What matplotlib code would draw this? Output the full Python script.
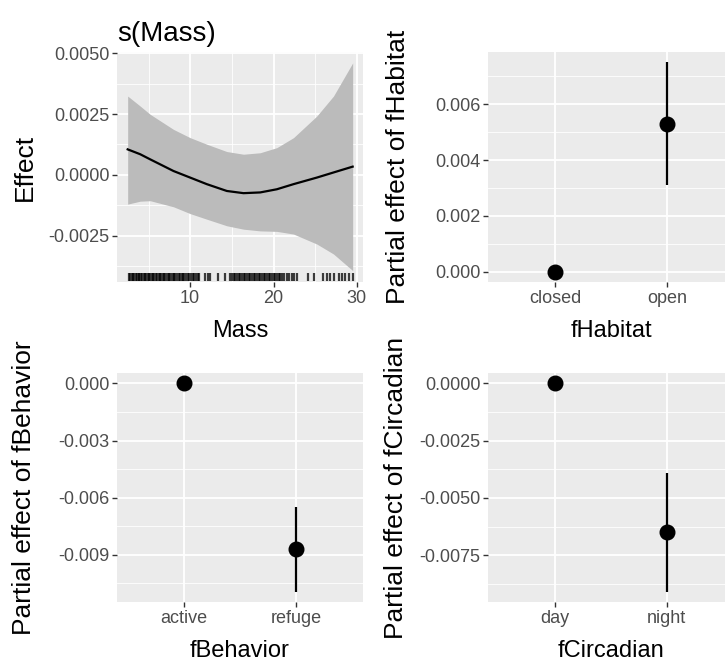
import numpy as np
import matplotlib.pyplot as plt
from matplotlib.ticker import FuncFormatter, MultipleLocator

plt.rcParams['font.family'] = ['Liberation Sans', 'DejaVu Sans']
plt.rcParams['axes.unicode_minus'] = False

# smooth of Mass
mass = [2.5, 4.0, 5.2, 8.0, 10.0, 12.0, 14.4, 16.4, 18.4, 20.4, 22.4, 25.2, 27.2, 29.5]
fit = [0.00105, 0.00085, 0.00064, 0.00016, -0.00011, -0.00038, -0.00066,
       -0.00075, -0.00072, -0.00059, -0.00038, -0.00011, 0.00010, 0.00034]
upper = [0.00324, 0.00283, 0.00249, 0.00187, 0.00153, 0.00126, 0.00096,
         0.00085, 0.00091, 0.00112, 0.00153, 0.00242, 0.00324, 0.00460]
lower = [-0.00120, -0.00108, -0.00106, -0.00131, -0.00159, -0.00182, -0.00209,
         -0.00223, -0.00230, -0.00232, -0.00243, -0.00284, -0.00325, -0.00393]
rug = [2.6, 2.8, 3.0, 3.1, 3.3, 3.5, 3.6, 3.8, 3.9, 4.1, 4.2, 4.4, 4.6, 4.7,
       4.9, 5.0, 5.2, 5.4, 5.5, 5.7, 5.9, 6.0, 6.2, 6.4, 6.5, 6.7, 6.9, 7.0,
       7.2, 7.4, 7.5, 7.7, 7.9, 8.0, 8.2, 8.4, 8.6, 8.8, 9.0, 9.1, 9.3, 9.5,
       9.7, 9.9, 10.1, 10.3, 10.5, 10.7, 10.9, 11.1, 11.8, 12.1, 12.4, 13.3,
       14.2, 14.8, 15.0, 15.2, 15.4, 15.6, 15.8, 16.0, 16.2, 16.4, 16.6, 16.8,
       17.0, 17.2, 17.4, 17.6, 17.8, 18.0, 18.2, 18.4, 18.6, 18.8, 19.0, 19.2,
       19.4, 19.6, 19.8, 20.0, 20.2, 20.4, 20.6, 20.8, 21.0, 21.3, 21.6, 21.9,
       22.2, 22.5, 22.8, 24.1, 24.9, 25.9, 26.4, 26.8, 27.3, 27.8, 28.2, 28.6,
       29.0, 29.5]

# parametric terms
habitat = ['closed', 'open']
habitat_est = [0.0, 0.0053]
habitat_lo = [0.0, 0.00309]
habitat_hi = [0.0, 0.0075]

behavior = ['active', 'refuge']
behavior_est = [0.0, -0.0087]
behavior_lo = [0.0, -0.01094]
behavior_hi = [0.0, -0.0065]

circadian = ['day', 'night']
circadian_est = [0.0, -0.00648]
circadian_lo = [0.0, -0.00909]
circadian_hi = [0.0, -0.00391]

W, H = 725, 668
fig = plt.figure(figsize=(W / 100, H / 100), dpi=100)


def panel(x, y0, y1):
    return fig.add_axes([x / W, (H - y1) / H, 246 / W, (y1 - y0) / H])


def style(ax, major, minor, fmt, ylab, ylab_x):
    ax.set_facecolor('#EBEBEB')
    for s in ax.spines.values():
        s.set_visible(False)
    ax.yaxis.set_major_locator(MultipleLocator(major))
    ax.yaxis.set_minor_locator(MultipleLocator(minor))
    ax.yaxis.set_major_formatter(FuncFormatter(lambda v, p: fmt.format(0.0 if abs(v) < 1e-12 else v)))
    ax.grid(which='major', color='white', lw=1.3, zorder=0)
    ax.grid(which='minor', color='white', lw=0.6, zorder=0)
    ax.set_axisbelow(True)
    ax.tick_params(which='major', length=3.5, width=1.0, color='#333333',
                   labelcolor='#4D4D4D', labelsize=13, pad=2)
    ax.tick_params(which='minor', length=0)
    ax.set_ylabel(ylab, fontsize=19, va='center')
    ax.yaxis.set_label_coords(ylab_x, 0.5)


def factor_panel(ax, cats, est, lo, hi, xlab):
    pos = np.arange(1, len(cats) + 1)
    ax.vlines(pos, lo, hi, color='black', lw=1.6, zorder=3)
    ax.plot(pos, est, 'o', color='black', ms=10.5, zorder=4)
    ax.set_xlim(0.4, len(cats) + 0.6)
    ax.set_xticks(pos)
    ax.set_xticklabels(cats)
    ax.set_xlabel(xlab, fontsize=17, va='center')
    ax.xaxis.set_label_coords(0.5, -0.215)


# s(Mass)
ax1 = panel(117, 52, 282)
style(ax1, 0.0025, 0.00125, '{:.4f}', 'Effect', -0.375)
ax1.fill_between(mass, lower, upper, color='#BBBBBB', lw=0, zorder=2)
ax1.plot(mass, fit, color='black', lw=1.6, zorder=3)
ax1.vlines(rug, 0.005, 0.04, transform=ax1.get_xaxis_transform(),
           color='black', lw=1.6, alpha=0.75, zorder=3)
ax1.set_xlim(1.22, 30.74)
ax1.set_ylim(-0.0044, 0.00505)
ax1.xaxis.set_major_locator(MultipleLocator(10))
ax1.xaxis.set_minor_locator(MultipleLocator(5))
ax1.set_xlabel('Mass', fontsize=17, va='center')
ax1.xaxis.set_label_coords(0.5, -0.215)
ax1.set_title('s(Mass)', fontsize=20, loc='left', pad=8)

# fHabitat
ax2 = panel(488, 52, 282)
style(ax2, 0.002, 0.001, '{:.3f}', 'Partial effect of fHabitat', -0.366)
factor_panel(ax2, habitat, habitat_est, habitat_lo, habitat_hi, 'fHabitat')
ax2.set_ylim(-0.000375, 0.007875)

# fBehavior
ax3 = panel(117, 373, 602)
style(ax3, 0.003, 0.0015, '{:.3f}', 'Partial effect of fBehavior', -0.378)
factor_panel(ax3, behavior, behavior_est, behavior_lo, behavior_hi, 'fBehavior')
ax3.set_ylim(-0.01149, 0.00055)

# fCircadian
ax4 = panel(488, 373, 602)
style(ax4, 0.0025, 0.00125, '{:.4f}', 'Partial effect of fCircadian', -0.374)
factor_panel(ax4, circadian, circadian_est, circadian_lo, circadian_hi, 'fCircadian')
ax4.set_ylim(-0.009545, 0.000455)

fig.savefig('out.png', dpi=100)
